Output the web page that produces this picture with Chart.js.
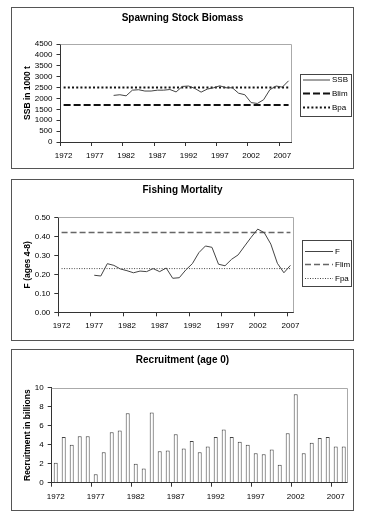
<!DOCTYPE html>
<html><head><meta charset="utf-8">
<script src="https://cdn.jsdelivr.net/npm/chart.js@4.4.1/dist/chart.umd.min.js"></script>
<style>
html,body{margin:0;padding:0;background:#fff;width:372px;height:523px;overflow:hidden;font-family:'Liberation Sans',Arial,sans-serif;}
.panel{position:absolute;left:11px;width:343px;box-sizing:border-box;border:1px solid #555;background:#fff;}
.panel canvas{position:absolute;left:0;top:0;}
</style>
</head><body>
<div class="panel" style="top:7px;height:162px;"><canvas id="c1" width="341" height="160" style="width:341px;height:160px"></canvas></div>
<div class="panel" style="top:179px;height:162px;"><canvas id="c2" width="341" height="160" style="width:341px;height:160px"></canvas></div>
<div class="panel" style="top:349px;height:162px;"><canvas id="c3" width="341" height="160" style="width:341px;height:160px"></canvas></div>

<script>
// ---------- DATA ----------
const years = ["1972","1973","1974","1975","1976","1977","1978","1979","1980","1981","1982","1983","1984","1985","1986","1987","1988","1989","1990","1991","1992","1993","1994","1995","1996","1997","1998","1999","2000","2001","2002","2003","2004","2005","2006","2007","2008"];
const fYears = ["1972","1973","1974","1975","1976","1977","1978","1979","1980","1981","1982","1983","1984","1985","1986","1987","1988","1989","1990","1991","1992","1993","1994","1995","1996","1997","1998","1999","2000","2001","2002","2003","2004","2005","2006","2007"];

// SSB (1000 t), 1972..2008
const ssb = [null,null,null,null,null,null,null,null,
  2140,2170,2120,2380,2400,2340,2340,2380,2380,2410,2300,2550,2570,2460,2290,2430,2490,2580,2490,2490,2240,2170,1810,1770,1940,2400,2570,2520,2810];
const blim = 1700;
const bpa = 2500;

// F (ages 4-8), 1972..2007
const fish = [null,null,null,null,null,
  0.195,0.191,0.256,0.247,0.228,0.219,0.208,0.217,0.214,0.230,0.214,0.233,0.179,0.182,0.223,0.256,0.314,0.349,0.342,0.253,0.245,0.279,0.302,0.349,0.395,0.438,0.419,0.359,0.258,0.208,0.247];
const flim = 0.42;
const fpa = 0.23;

// Recruitment (billions), 1972..2008
const recruit = [2.1,4.8,4.0,4.9,4.9,0.9,3.2,5.3,5.5,7.3,2.0,1.5,7.4,3.3,3.4,5.1,3.6,4.4,3.2,3.8,4.8,5.6,4.8,4.3,4.0,3.1,3.0,3.5,1.9,5.2,9.3,3.1,4.2,4.7,4.8,3.8,3.8];

const ssbTicks = {min:0, max:4500, step:500};
const fTicks = {min:0, max:0.5, step:0.1};
const rTicks = {min:0, max:10, step:2};

// ---------- STYLE ----------
const FONT = "'Liberation Sans', Arial, sans-serif";
const AX = '#333';
Chart.defaults.font.family = FONT;
Chart.defaults.color = '#000';

const frame = {
  id:'frame',
  beforeDatasetsDraw(chart){
    const {ctx, chartArea:a} = chart;
    ctx.save();
    ctx.strokeStyle = '#aaa'; ctx.lineWidth = 1;
    ctx.beginPath();
    ctx.moveTo(a.left, Math.round(a.top)+0.5);
    ctx.lineTo(Math.round(a.right)-0.5, Math.round(a.top)+0.5);
    ctx.lineTo(Math.round(a.right)-0.5, a.bottom);
    ctx.stroke();
    ctx.restore();
  }
};

// boxed legend drawn from the datasets' own styles
const boxLegend = {
  id:'boxLegend',
  afterDraw(chart, args, o){
    if (!o || !o.box) return;
    const ctx = chart.ctx;
    const [bx,by,bw,bh] = o.box;
    ctx.save();
    ctx.strokeStyle = '#444'; ctx.lineWidth = 1; ctx.setLineDash([]);
    ctx.strokeRect(bx+0.5, by+0.5, bw-1, bh-1);
    ctx.font = '8px ' + FONT;
    ctx.textBaseline = 'middle'; ctx.textAlign = 'left';
    chart.data.datasets.forEach((ds,i)=>{
      const y = o.rows[i];
      ctx.strokeStyle = ds.borderColor; ctx.lineWidth = ds.borderWidth;
      ctx.setLineDash(ds.borderDash || []);
      ctx.beginPath(); ctx.moveTo(o.x1, y); ctx.lineTo(o.x2, y); ctx.stroke();
      ctx.fillStyle = '#000';
      ctx.fillText(ds.label, o.tx, y);
    });
    ctx.restore();
  }
};

function xAxis(h){
  return {
    type:'category', offset:true,
    grid:{offset:true, drawOnChartArea:false, drawTicks:true, tickLength:4,
      color:(c)=> (c.index !== undefined && c.index % 5 === 0 && c.type==='tick') ? AX : 'rgba(0,0,0,0)'},
    border:{color:AX, width:1},
    ticks:{autoSkip:false, maxRotation:0, minRotation:0, padding:5, font:{size:8},
      callback:function(v,i){ return i % 5 === 0 ? this.getLabelForValue(v) : ''; }},
    afterFit:(s)=>{ s.height = h; }
  };
}
function yAxis(t, w, title, fmt){
  return {
    min:t.min, max:t.max,
    grid:{drawOnChartArea:false, tickLength:4, color:AX},
    border:{color:AX, width:1},
    ticks:{stepSize:t.step, autoSkip:false, padding:4, font:{size:8}, callback:fmt},
    title:{display:true, text:title, font:{size:8.5, weight:'bold'}, padding:{top:11,bottom:0}},
    afterFit:(s)=>{ s.width = w; }
  };
}
// empty right-hand spacer axis so the title stays centred over the whole panel
function spacer(w){
  return {position:'right', display:true, grid:{display:false, drawTicks:false}, border:{display:false},
    ticks:{display:false}, afterFit:(s)=>{ s.width = w; }};
}
function common(title, padBottom){
  return {
    responsive:false, animation:false, devicePixelRatio:1,
    layout:{padding:0},
    plugins:{
      legend:{display:false}, tooltip:{enabled:false},
      title:{display:true, text:title, font:{size:10, weight:'bold'}, color:'#000', padding:{top:4, bottom:padBottom}}
    }
  };
}

// ---------- CHART 1 ----------
const o1 = common('Spawning Stock Biomass', 20);
o1.scales = {x:xAxis(26), y:yAxis(ssbTicks, 48.5, 'SSB in 1000 t', v=>String(v)), sp:spacer(61.3)};
o1.plugins.boxLegend = {box:[288,66,52,43], x1:291, x2:318, tx:320, rows:[72,85.5,99.5]};
new Chart(document.getElementById('c1'), {
  type:'line',
  data:{labels:years, datasets:[
    {label:'SSB', data:ssb, borderColor:'#444', borderWidth:1, pointRadius:0, tension:0, spanGaps:false},
    {label:'Blim', data:years.map(()=>blim), borderColor:'#111', borderWidth:2, borderDash:[7,3], pointRadius:0},
    {label:'Bpa', data:years.map(()=>bpa), borderColor:'#111', borderWidth:2, borderDash:[2,2.2], pointRadius:0}
  ]},
  options:o1, plugins:[frame, boxLegend]
});

// ---------- CHART 2 ----------
const o2 = common('Fishing Mortality', 21.3);
o2.scales = {x:xAxis(27.7), y:yAxis(fTicks, 46.3, 'F (ages 4-8)', v=>Number(v).toFixed(2)), sp:spacer(59.3)};
o2.plugins.boxLegend = {box:[290,60,50,47], x1:293, x2:321, tx:323, rows:[71.5,84.5,98.5]};
new Chart(document.getElementById('c2'), {
  type:'line',
  data:{labels:fYears, datasets:[
    {label:'F', data:fish, borderColor:'#444', borderWidth:1, pointRadius:0, tension:0},
    {label:'Flim', data:fYears.map(()=>flim), borderColor:'#666', borderWidth:1.5, borderDash:[6,3], pointRadius:0},
    {label:'Fpa', data:fYears.map(()=>fpa), borderColor:'#444', borderWidth:1, borderDash:[1,1.5], pointRadius:0}
  ]},
  options:o2, plugins:[frame, boxLegend]
});

// ---------- CHART 3 ----------
const o3 = common('Recruitment (age 0)', 21.7);
o3.scales = {x:xAxis(27.3), y:yAxis(rTicks, 39.7, 'Recruitment in billions', v=>String(v)), sp:spacer(5.3)};
new Chart(document.getElementById('c3'), {
  type:'bar',
  data:{labels:years, datasets:[
    {label:'Recruitment', data:recruit, backgroundColor:'#fff', borderColor:'#444', borderWidth:1, barPercentage:0.5, categoryPercentage:1}
  ]},
  options:o3, plugins:[frame]
});
</script>
</body></html>
